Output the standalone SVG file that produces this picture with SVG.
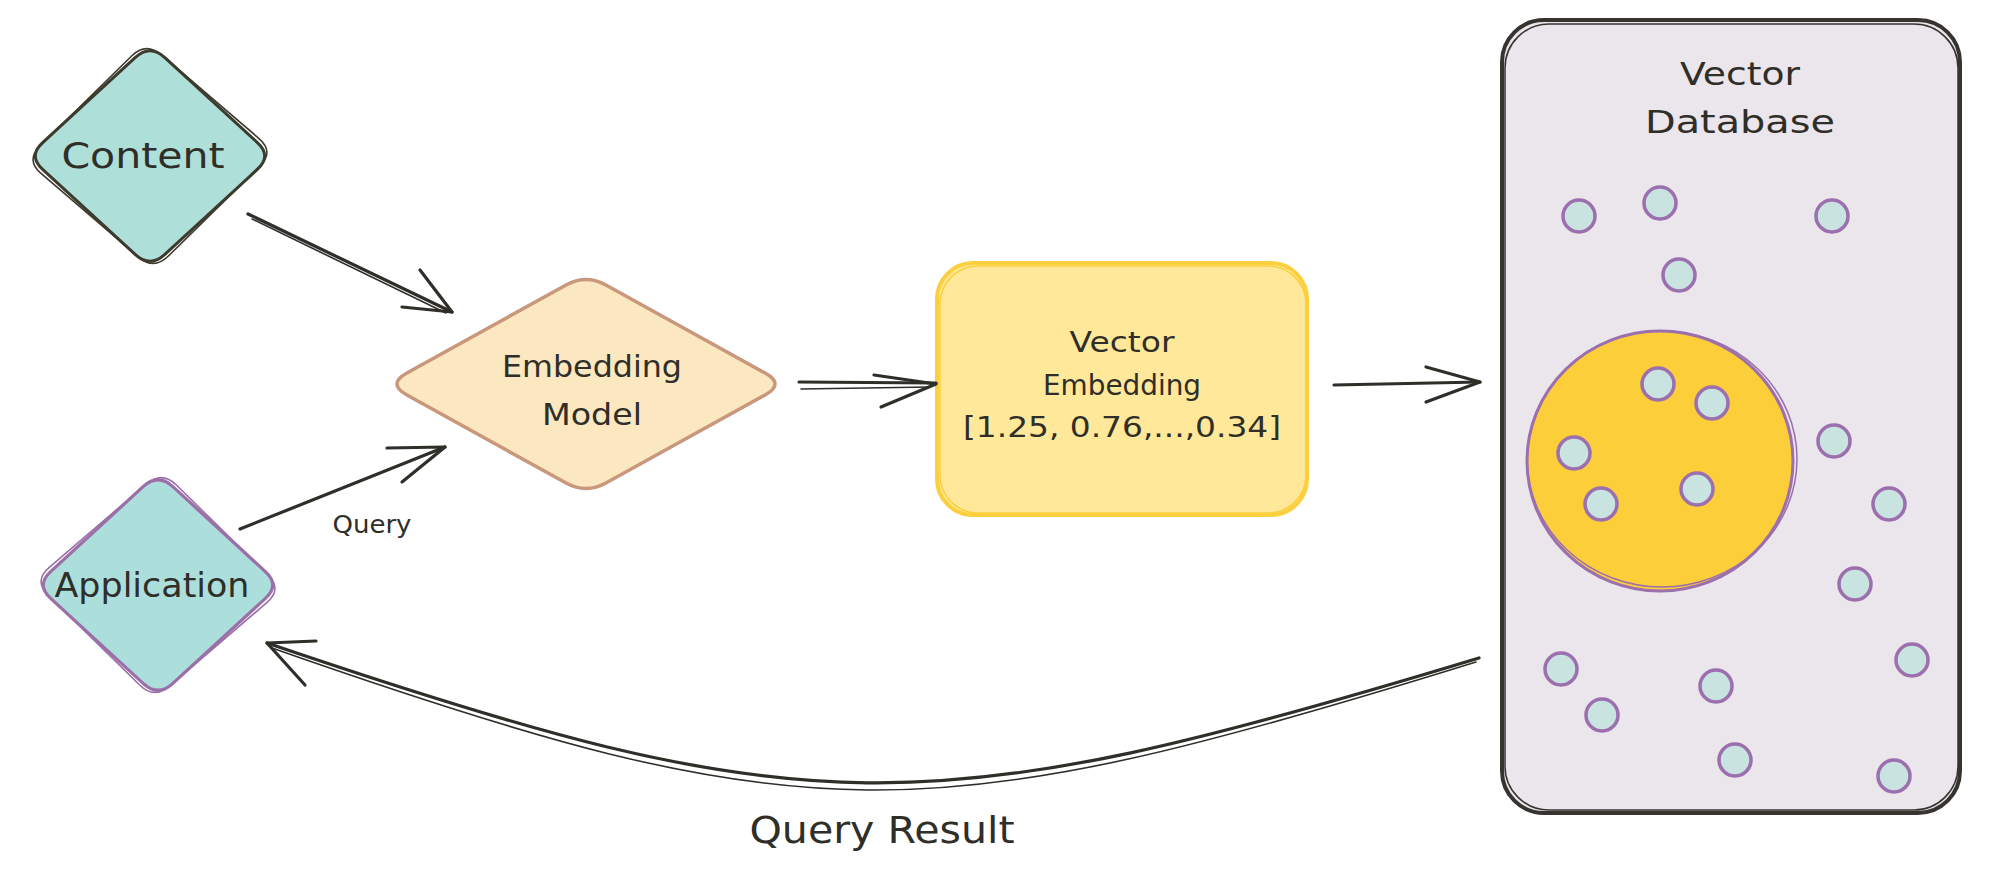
<svg xmlns="http://www.w3.org/2000/svg" width="1999" height="882" viewBox="0 0 1999 882">
<style>
.t{font-family:"DejaVu Sans","Liberation Sans",sans-serif;fill:#2f2e29;text-anchor:middle}
.ln{stroke:#2f2e29;stroke-width:3.2;fill:none;stroke-linecap:round;stroke-linejoin:round}
.ln2{stroke:#2f2e29;stroke-width:1.6;fill:none;stroke-linecap:round;stroke-linejoin:round}
.dot{fill:#c9e3e0;stroke:#9c6fae;stroke-width:3.5}
</style>
<defs>
<path id="dia" d="M164.6,57.4 L257.4,142.6 Q272,156 257.4,169.4 L164.6,254.6 Q150,268 135.4,254.6 L42.6,169.4 Q28,156 42.6,142.6 L135.4,57.4 Q150,44 164.6,57.4 Z"/>
</defs>
<rect width="1999" height="882" fill="#ffffff"/>

<g id="content">
<use href="#dia" fill="#afdfd9" stroke="#3d3a2e" stroke-width="3"/>
<use href="#dia" fill="none" stroke="#3d3a2e" stroke-width="1.6" transform="translate(150,156) rotate(-2) scale(1.02) translate(-150,-156)"/>
<text class="t" x="143" y="168" font-size="36" textLength="163" lengthAdjust="spacingAndGlyphs">Content</text>
</g>

<g id="application">
<use href="#dia" fill="#acdfdb" stroke="#9b70a8" stroke-width="3.2" transform="translate(8,429)"/>
<use href="#dia" fill="none" stroke="#9b70a8" stroke-width="1.6" transform="translate(158,585) rotate(2) scale(1.02) translate(-150,-156)"/>
<text class="t" x="152" y="597" font-size="34" textLength="195" lengthAdjust="spacingAndGlyphs">Application</text>
</g>

<g id="embedding-model">
<path d="M605.9,285 L765.1,373 Q785,384 765.1,395 L605.9,483 Q586,494 566.1,483 L406.9,395 Q387,384 406.9,373 L566.1,285 Q586,274 605.9,285 Z" fill="#fbe8c0" stroke="#c8977c" stroke-width="3.5"/>
<text class="t" x="592" y="377" font-size="30" textLength="180" lengthAdjust="spacingAndGlyphs">Embedding</text>
<text class="t" x="592" y="425" font-size="30" textLength="100" lengthAdjust="spacingAndGlyphs">Model</text>
</g>

<g id="vector-embedding">
<rect x="937" y="263" width="370" height="252" rx="36" fill="#ffe899" stroke="#fccf3e" stroke-width="4"/>
<rect x="940" y="266" width="366" height="247" rx="38" fill="none" stroke="#fccf3e" stroke-width="1.5"/>
<text class="t" x="1122" y="352" font-size="28" textLength="105" lengthAdjust="spacingAndGlyphs">Vector</text>
<text class="t" x="1122" y="395" font-size="28" textLength="158" lengthAdjust="spacingAndGlyphs">Embedding</text>
<text class="t" x="1122" y="437" font-size="28" textLength="318" lengthAdjust="spacingAndGlyphs">[1.25, 0.76,...,0.34]</text>
</g>

<g id="vector-database">
<rect x="1502" y="20" width="458" height="793" rx="42" fill="#ebe5ec" stroke="#36342f" stroke-width="4"/>
<rect x="1505" y="24" width="453" height="786" rx="44" fill="none" stroke="#36342f" stroke-width="1.5"/>
<text class="t" x="1740" y="85" font-size="32" textLength="120" lengthAdjust="spacingAndGlyphs">Vector</text>
<text class="t" x="1740" y="133" font-size="32" textLength="190" lengthAdjust="spacingAndGlyphs">Database</text>
<ellipse cx="1660" cy="461" rx="133" ry="130" fill="#fcce3a" stroke="#9c6fae" stroke-width="3"/>
<ellipse cx="1662" cy="459" rx="135" ry="128" fill="none" stroke="#9c6fae" stroke-width="1.5"/>
<circle class="dot" cx="1579" cy="216" r="16"/>
<circle class="dot" cx="1660" cy="203" r="16"/>
<circle class="dot" cx="1832" cy="216" r="16"/>
<circle class="dot" cx="1679" cy="275" r="16"/>
<circle class="dot" cx="1658" cy="384" r="16"/>
<circle class="dot" cx="1712" cy="403" r="16"/>
<circle class="dot" cx="1574" cy="453" r="16"/>
<circle class="dot" cx="1601" cy="504" r="16"/>
<circle class="dot" cx="1697" cy="489" r="16"/>
<circle class="dot" cx="1834" cy="441" r="16"/>
<circle class="dot" cx="1889" cy="504" r="16"/>
<circle class="dot" cx="1855" cy="584" r="16"/>
<circle class="dot" cx="1912" cy="660" r="16"/>
<circle class="dot" cx="1561" cy="669" r="16"/>
<circle class="dot" cx="1602" cy="715" r="16"/>
<circle class="dot" cx="1716" cy="686" r="16"/>
<circle class="dot" cx="1735" cy="760" r="16"/>
<circle class="dot" cx="1894" cy="776" r="16"/>
</g>

<g id="connectors">
<path class="ln" d="M248,214 L452,312"/>
<path class="ln2" d="M252,219 L446,313"/>
<path class="ln" d="M420,270 L452,312 L402,307"/>
<path class="ln" d="M240,529 L445,447"/>
<path class="ln" d="M387,448 L445,447 L402,482"/>
<text class="t" x="372" y="533" font-size="24" textLength="79" lengthAdjust="spacingAndGlyphs">Query</text>
<path class="ln" d="M799,382 L936,383"/>
<path class="ln2" d="M801,389 L930,387"/>
<path class="ln" d="M874,375 L936,384 L881,407"/>
<path class="ln" d="M1334,385 L1480,382"/>
<path class="ln" d="M1426,367 L1480,382 L1426,402"/>
<path class="ln" d="M1479,658 C922,827 808,827 267,643"/>
<path class="ln2" d="M1476,662 C922,834 808,836 272,648"/>
<path class="ln" d="M316,641 L267,643 L305,685"/>
<text class="t" x="882" y="843" font-size="38" textLength="265" lengthAdjust="spacingAndGlyphs">Query Result</text>
</g>
</svg>
